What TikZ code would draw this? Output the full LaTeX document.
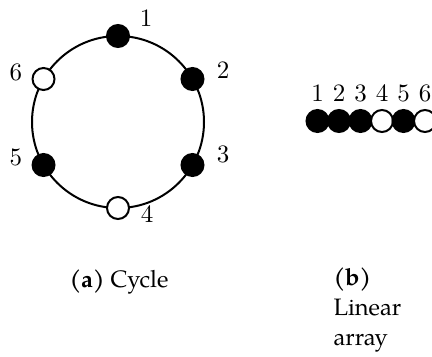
\documentclass[tikz,border=0pt]{standalone}
\usepackage{fontspec}
\newfontfamily\pagella{TeX Gyre Pagella}
\usepackage{tikz}
\usetikzlibrary{positioning}
\tikzset{
  site/.style={circle, draw=black, line width=0.8pt, minimum size=8.8pt, inner sep=0pt},
  fullsite/.style={site, fill=black},
  emptysite/.style={site, fill=white},
  sitelabel/.style={inner sep=0pt},
  capfont/.style={font=\pagella\fontsize{9.5}{12}\selectfont, inner sep=0pt}
}

\begin{document}
\begin{tikzpicture}[x=0.4pt, y=0.4pt]
  \useasboundingbox (0,0) rectangle (432,356);
  % ---------- (a) cycle ----------
  \coordinate (ring) at (118,234);
  \draw[line width=0.8pt] (ring) circle (86);
  \foreach \n/\a/\s in {1/90/fullsite, 2/30/fullsite, 3/-30/fullsite, 4/-90/emptysite, 5/210/fullsite, 6/150/emptysite}
    \node[\s] (c\n) at ([shift={(\a:86)}]ring) {};
  \node[sitelabel] (l1) at (146,338) {1};
  \node[sitelabel] (l2) at (223,286) {2};
  \node[sitelabel] (l3) at (223,202) {3};
  \node[sitelabel] (l4) at (147,141.5) {4};
  \node[sitelabel] (l5) at (16,198.5) {5};
  \node[sitelabel] (l6) at (16,284) {6};
  \node[capfont, anchor=base] (capa) at (119,69) {\textbf{(a)} Cycle};
  % ---------- (b) linear array ----------
  \foreach \n/\s in {1/fullsite, 2/fullsite, 3/fullsite, 4/emptysite, 5/fullsite, 6/emptysite}
    \node[\s] (a\n) at ({317.5+21.5*(\n-1)},235) {};
  \foreach \n in {1,...,6}
    \node[sitelabel] (b\n) at ({317.5+21.5*(\n-1)},263) {\n};
  \node[capfont, anchor=north west, align=left] (capb) at (333,89) {\textbf{(b)}\\Linear\\array};
\end{tikzpicture}
\end{document}
